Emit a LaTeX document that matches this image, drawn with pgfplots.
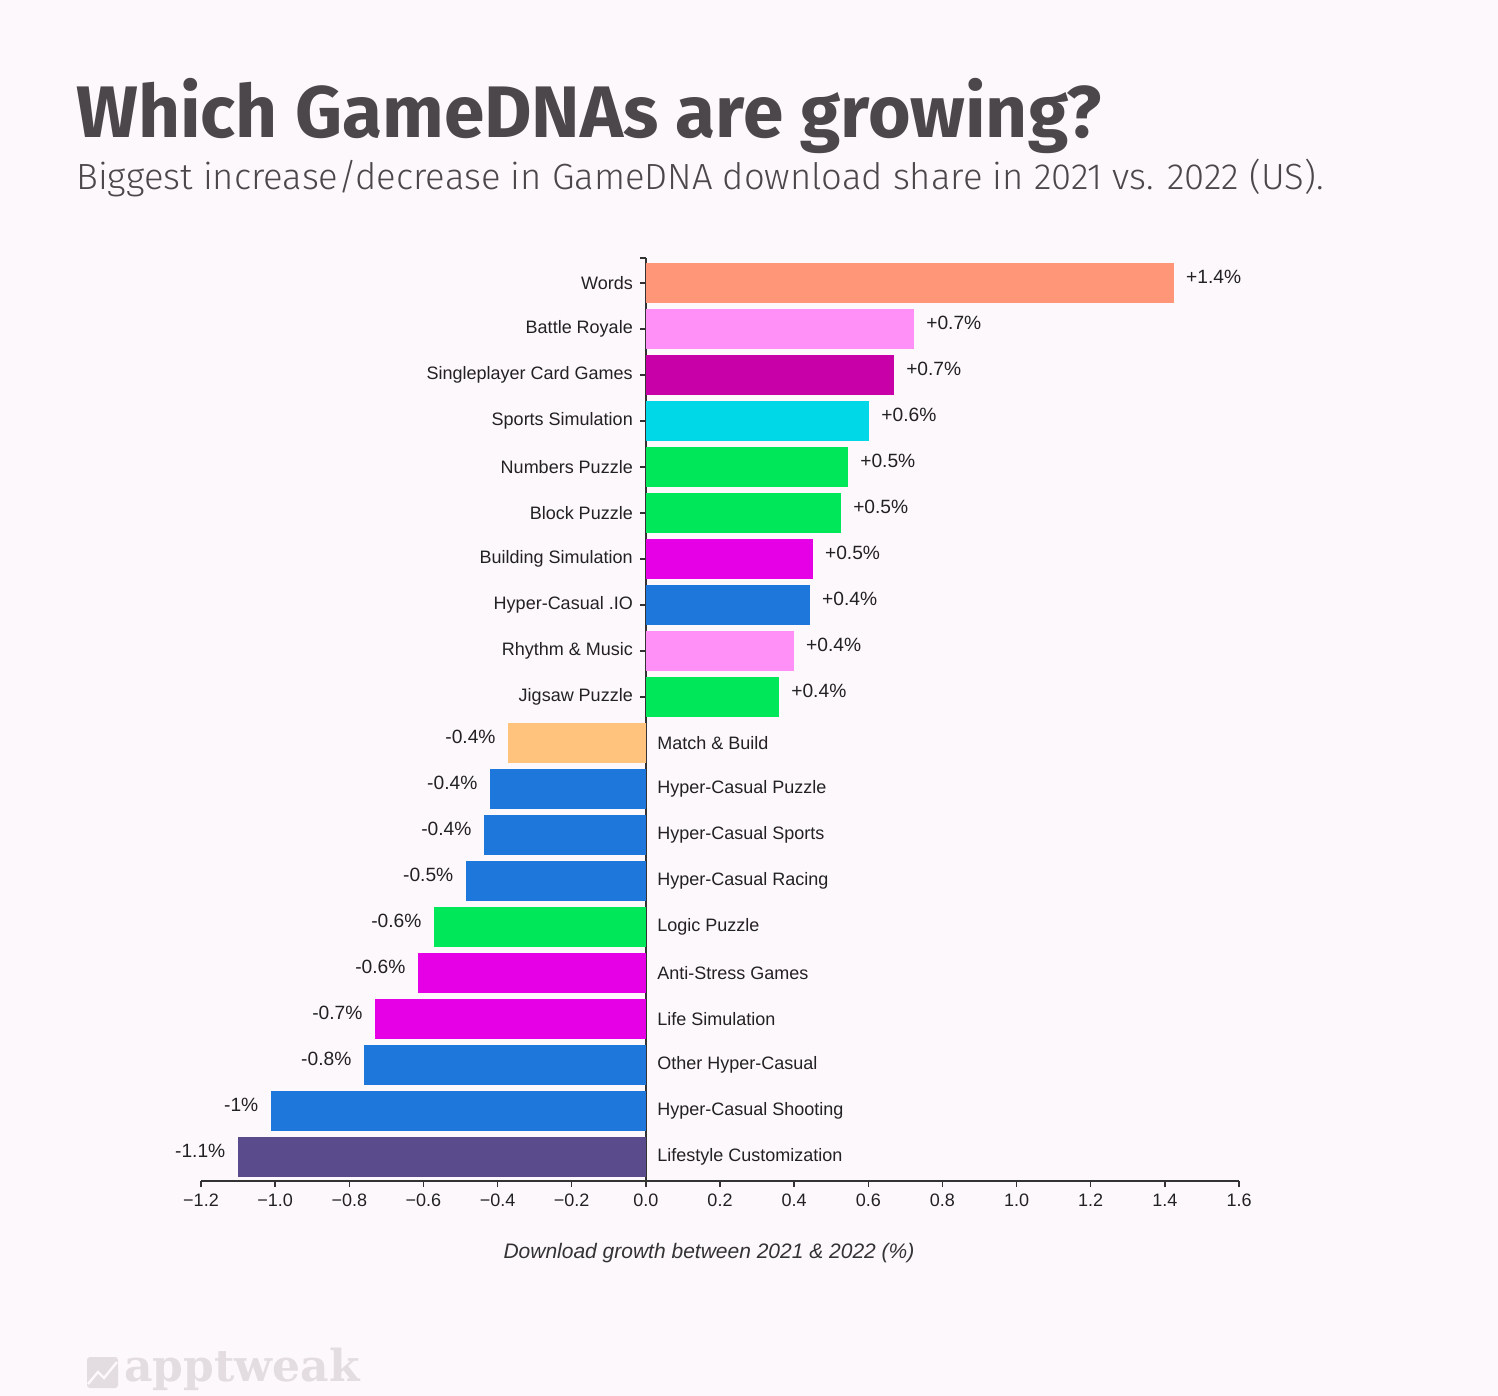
\documentclass[border=0pt]{standalone}
\usepackage{fontspec}
\usepackage{pgfplots}
\pgfplotsset{compat=1.18}
\setmainfont{Liberation Sans}
\newfontfamily\titlefont{Fira Sans}
\newfontfamily\subfont{Fira Sans Light}
\newfontfamily\logofont{DejaVu Serif}

\definecolor{bg}{HTML}{FDF8FC}
\definecolor{titlegray}{HTML}{4B474A}
\definecolor{axisgray}{HTML}{333333}
\definecolor{labelcol}{HTML}{222222}
\definecolor{wm}{HTML}{E3DDE2}
\definecolor{cSalmon}{HTML}{FF9678}
\definecolor{cPink}{HTML}{FF90F8}
\definecolor{cPlum}{HTML}{C800A8}
\definecolor{cCyan}{HTML}{00D8E8}
\definecolor{cGreen}{HTML}{00E85A}
\definecolor{cMagenta}{HTML}{E600E6}
\definecolor{cBlue}{HTML}{1E78DC}
\definecolor{cPeach}{HTML}{FFC37D}
\definecolor{cPurple}{HTML}{5A4B8C}

% one bar: colour, value, row, label (p = growing, n = shrinking)
\newcommand{\pbar}[4]{\addplot[fill=#1,draw=none,
  every node near coord/.append style={anchor=west}] coordinates {(#2,#3) [#4]};}
\newcommand{\nbar}[4]{\addplot[fill=#1,draw=none,
  every node near coord/.append style={anchor=east}] coordinates {(#2,#3) [#4]};}
\newcommand{\lab}{\fontsize{9}{10}\selectfont}
% category name right of the zero line (negative bars)
\newcommand{\rlab}[2]{\node[anchor=west, font=\lab, text=labelcol, inner xsep=5.5pt] at (axis cs:0,#1) {#2};}

\begin{document}
\begin{tikzpicture}
\fill[bg] (0,0) rectangle (749pt,-698pt);

\node[anchor=base west, inner sep=0, text=titlegray,
      font=\titlefont\bfseries\fontsize{36.5}{40}\selectfont]
  at (38pt,-69pt) {Which GameDNAs are growing?};
\node[anchor=base west, inner sep=0, text=titlegray,
      font=\subfont\fontsize{18.2}{22}\selectfont]
  at (38pt,-95pt) {Biggest increase/decrease in GameDNA download share in 2021 vs. 2022 (US).};

\begin{axis}[
    at={(100.5pt,-590.5pt)}, anchor=south west,
    scale only axis, width=519pt, height=461.5pt,
    xmin=-1.2, xmax=1.6, ymin=-0.52, ymax=19.54,
    xbar, bar width=20pt, bar shift=0pt,
    axis x line*=bottom, axis y line*=middle,
    axis line style={draw=axisgray, line width=0.75pt},
    tick style={draw=axisgray, line width=0.75pt},
    major tick length=3pt, tick align=outside,
    xtick={-1.2,-1.0,-0.8,-0.6,-0.4,-0.2,0,0.2,0.4,0.6,0.8,1.0,1.2,1.4,1.6},
    xticklabels={−1.2,−1.0,−0.8,−0.6,−0.4,−0.2,0.0,0.2,0.4,0.6,0.8,1.0,1.2,1.4,1.6},
    ytick={10,...,19},
    yticklabels={Jigsaw Puzzle,Rhythm \& Music,Hyper-Casual .IO,Building Simulation,Block Puzzle,Numbers Puzzle,Sports Simulation,Singleplayer Card Games,Battle Royale,Words},
    extra y ticks={19.54}, extra y tick labels={},
    tick label style={font=\lab, text=labelcol},
    xlabel={\itshape Download growth between 2021 \& 2022 (\%)},
    xlabel style={at={(axis description cs:0.5,0)}, anchor=base,
                  yshift=-38.5pt, xshift=-5.5pt,
                  font=\fontsize{10.5}{12}\selectfont, text=axisgray},
    nodes near coords, point meta=explicit symbolic,
    nodes near coords style={font=\fontsize{9.6}{11}\selectfont, text=labelcol,
                             yshift=3pt, inner xsep=6pt},
    clip=false,
]
\pbar{cSalmon}{1.424}{19}{+1.4\%}
\pbar{cPink}{0.723}{18}{+0.7\%}
\pbar{cPlum}{0.669}{17}{+0.7\%}
\pbar{cCyan}{0.602}{16}{+0.6\%}
\pbar{cGreen}{0.545}{15}{+0.5\%}
\pbar{cGreen}{0.526}{14}{+0.5\%}
\pbar{cMagenta}{0.450}{13}{+0.5\%}
\pbar{cBlue}{0.442}{12}{+0.4\%}
\pbar{cPink}{0.399}{11}{+0.4\%}
\pbar{cGreen}{0.359}{10}{+0.4\%}
\nbar{cPeach}{-0.372}{9}{-0.4\%}
\nbar{cBlue}{-0.421}{8}{-0.4\%}
\nbar{cBlue}{-0.437}{7}{-0.4\%}
\nbar{cBlue}{-0.486}{6}{-0.5\%}
\nbar{cGreen}{-0.572}{5}{-0.6\%}
\nbar{cMagenta}{-0.615}{4}{-0.6\%}
\nbar{cMagenta}{-0.731}{3}{-0.7\%}
\nbar{cBlue}{-0.761}{2}{-0.8\%}
\nbar{cBlue}{-1.012}{1}{-1\%}
\nbar{cPurple}{-1.101}{0}{-1.1\%}

\rlab{9}{Match \& Build}
\rlab{8}{Hyper-Casual Puzzle}
\rlab{7}{Hyper-Casual Sports}
\rlab{6}{Hyper-Casual Racing}
\rlab{5}{Logic Puzzle}
\rlab{4}{Anti-Stress Games}
\rlab{3}{Life Simulation}
\rlab{2}{Other Hyper-Casual}
\rlab{1}{Hyper-Casual Shooting}
\rlab{0}{Lifestyle Customization}
\end{axis}

% watermark
\fill[wm, rounded corners=1.5pt] (43.5pt,-678.5pt) rectangle (59pt,-694pt);
\draw[bg, line width=1.2pt] (44pt,-692pt) -- (49pt,-686pt) -- (52pt,-689pt) -- (58.5pt,-681pt);
\node[anchor=base west, inner sep=0, text=wm, font=\logofont\bfseries\fontsize{22}{24}\selectfont]
  at (62pt,-690.5pt) {apptweak};
\end{tikzpicture}
\end{document}
